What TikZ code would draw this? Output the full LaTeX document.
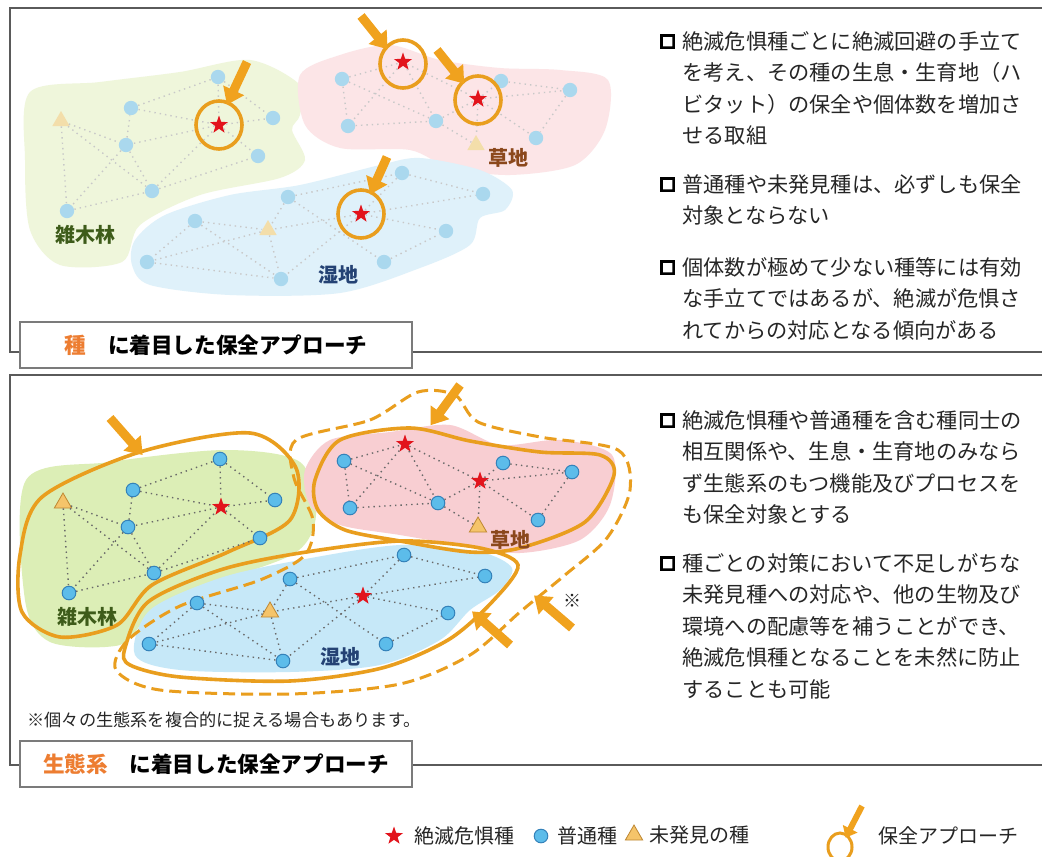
\documentclass[tikz,border=0pt]{standalone}
\usepackage{fontspec}
\setmainfont{Noto Sans CJK JP}
\newfontfamily\heavyfont[FakeBold=12]{Noto Sans CJK JP}
\definecolor{ForestFill}{RGB}{220,238,182}
\definecolor{ForestFaint}{RGB}{239,246,219}
\definecolor{MeadowFill}{RGB}{248,206,210}
\definecolor{MeadowFaint}{RGB}{252,229,231}
\definecolor{WetFill}{RGB}{198,232,248}
\definecolor{WetFaint}{RGB}{223,241,250}
\definecolor{CommonBlue}{RGB}{92,188,234}
\definecolor{CommonEdge}{RGB}{52,130,186}
\definecolor{CommonFaint}{RGB}{170,216,238}
\definecolor{UnknownYellow}{RGB}{245,196,106}
\definecolor{UnknownEdge}{RGB}{190,135,50}
\definecolor{UnknownFaint}{RGB}{243,222,170}
\definecolor{StarRed}{RGB}{226,20,28}
\definecolor{LinkGray}{RGB}{105,105,105}
\definecolor{LinkFaint}{RGB}{200,200,200}
\definecolor{RingOrange}{RGB}{233,158,30}
\definecolor{ArrowOrange}{RGB}{240,162,30}
\definecolor{TitleOrange}{RGB}{237,125,49}
\definecolor{FrameGray}{RGB}{90,90,90}
\definecolor{TextGray}{RGB}{38,38,38}
\definecolor{ForestText}{RGB}{62,92,26}
\definecolor{MeadowText}{RGB}{139,72,28}
\definecolor{WetText}{RGB}{36,66,116}
\usetikzlibrary{arrows.meta, positioning, shapes.geometric}

% the three ecosystems with their species (bottom-panel coordinates)
\newcommand\ecoNet[1]{%
  % 雑木林
  \node[common] (#1-fa) at (220,459) {};
  \node[common] (#1-fb) at (133,490) {};
  \node[unknown] (#1-ft) at (63,503) {};
  \node[endangered] (#1-fs) at (221,507) {};
  \node[common] (#1-fc) at (275,500) {};
  \node[common] (#1-fd) at (128,527) {};
  \node[common] (#1-fe) at (260,538) {};
  \node[common] (#1-ff) at (154,573) {};
  \node[common] (#1-fg) at (69,593) {};
  \foreach \na/\nb in {fb/fa, fb/fs, fa/fs, fa/fc, fs/fc, fs/fe, fs/fd, ft/fd, ft/ff, ft/fg, fd/fb, fd/fg, fd/ff, ff/fs, ff/fe, fg/ff}
    \draw[link] (#1-\na) -- (#1-\nb);
  % 草地
  \node[common] (#1-pa) at (344,461) {};
  \node[endangered] (#1-ps) at (405,444) {};
  \node[common] (#1-pb) at (503,463) {};
  \node[endangered] (#1-pr) at (480,481) {};
  \node[common] (#1-pc) at (572,472) {};
  \node[common] (#1-pd) at (350,508) {};
  \node[common] (#1-pe) at (438,503) {};
  \node[common] (#1-pf) at (538,520) {};
  \node[unknown] (#1-pt) at (478,527) {};
  \foreach \na/\nb in {pa/ps, pa/pd, pa/pe, ps/pd, ps/pe, ps/pr, pd/pe, pe/pr, pe/pt, pr/pt, pr/pb, pr/pc, pr/pf, pb/pc, pc/pf}
    \draw[link] (#1-\na) -- (#1-\nb);
  % 湿地
  \node[common] (#1-wa) at (404,555) {};
  \node[common] (#1-wb) at (485,576) {};
  \node[common] (#1-wc) at (290,579) {};
  \node[endangered] (#1-ws) at (363,596) {};
  \node[common] (#1-wd) at (197,603) {};
  \node[unknown] (#1-wt) at (270,612) {};
  \node[common] (#1-we) at (448,613) {};
  \node[common] (#1-wf) at (149,644) {};
  \node[common] (#1-wg) at (386,644) {};
  \node[common] (#1-wh) at (283,661) {};
  \foreach \na/\nb in {wc/wa, wa/wb, wa/ws, ws/wb, ws/we, ws/wt, ws/wh, wc/wt, wc/wg, wd/wt, wd/wf, wd/wh, wt/wf, wt/wh, wf/wh, wg/we}
    \draw[link] (#1-\na) -- (#1-\nb);
  \node[region, text=ForestText] (#1-forest) at (87,617) {雑木林};
  \node[region, text=MeadowText] (#1-meadow) at (510,540) {草地};
  \node[region, text=WetText] (#1-wet) at (340,657) {湿地};
}

\begin{document}
\begin{tikzpicture}[
    x=0.5pt, y=-0.5pt,
    common/.style={circle, fill=CommonBlue, draw=CommonEdge, line width=0.5pt, minimum size=6.8pt, inner sep=0pt},
    unknown/.style={regular polygon, regular polygon sides=3, fill=UnknownYellow, draw=UnknownEdge, line width=0.4pt, minimum size=10pt, inner sep=0pt},
    endangered/.style={star, star points=5, star point ratio=2.5, fill=StarRed, minimum size=9.5pt, inner sep=0pt},
    link/.style={draw=LinkGray, line width=0.7pt, dotted},
    ring/.style={ellipse, draw=RingOrange, line width=1.8pt, minimum width=23pt, minimum height=24pt, inner sep=0pt},
    pointer/.style={draw=ArrowOrange, line width=4.5pt, shorten >=-2pt, -{Triangle[length=8pt, width=11pt]}},
    boundary/.style={draw=RingOrange, line width=1.8pt},
    merged/.style={draw=RingOrange, line width=1.5pt, dash pattern=on 6pt off 3pt},
    panel/.style={draw=FrameGray, line width=0.8pt},
    para/.style={anchor=north west, align=left, inner sep=0pt, text=TextGray, font=\fontsize{10.6pt}{15.75pt}\selectfont},
    bullet/.style={inner sep=0pt, text=black, font=\heavyfont\fontsize{8pt}{8pt}\selectfont},
    titlebox/.style={draw=FrameGray!80, fill=white, line width=0.6pt, minimum width=196pt, minimum height=23pt, font=\bfseries\fontsize{10.8pt}{12pt}\selectfont},
    region/.style={font=\bfseries\fontsize{10pt}{12pt}\selectfont, inner sep=0pt},
    legendtext/.style={inner sep=0pt, text=TextGray, font=\fontsize{10pt}{12pt}\selectfont}
  ]
  \useasboundingbox (0,0) rectangle (1042,856);
  \fill[white] (0,0) rectangle (1042,856);

  % ---- top panel: species approach
  \draw[panel] (1042,8) -- (10,8) -- (10,352) -- (1042,352);
  \fill[ForestFaint] plot[smooth cycle] coordinates {(30,92) (100,82) (180,72) (250,60) (300,85) (300,115) (292,130) (305,160) (280,178) (200,195) (140,225) (122,262) (60,265) (30,230) (25,160)};
  \fill[MeadowFaint] plot[smooth cycle] coordinates {(300,75) (340,55) (390,45) (440,60) (500,68) (560,70) (608,80) (605,130) (575,165) (510,175) (450,168) (410,150) (340,148) (305,125)};
  \fill[WetFaint] plot[smooth cycle] coordinates {(135,240) (165,215) (230,195) (300,185) (380,165) (420,158) (480,170) (512,190) (505,210) (480,218) (470,245) (420,268) (340,293) (230,295) (150,285) (132,265)};
  \begin{scope}[shift={(-2,-382)},
      common/.style={circle, fill=CommonFaint, minimum size=7.2pt, inner sep=0pt},
      unknown/.style={regular polygon, regular polygon sides=3, fill=UnknownFaint, minimum size=10pt, inner sep=0pt},
      link/.style={draw=LinkFaint, line width=0.7pt, dotted}]
    \ecoNet{t}
  \end{scope}
  \node[ring] (ring-forest) at (219,125) {};
  \node[ring] (ring-meadow1) at (403,64) {};
  \node[ring] (ring-meadow2) at (478,100) {};
  \node[ring] (ring-wet) at (361,214) {};
  \coordinate (tail-forest) at (247,62);
  \coordinate (tail-meadow1) at (361,16);
  \coordinate (tail-meadow2) at (437,50);
  \coordinate (tail-wet) at (387,157);
  \draw[pointer] (tail-forest) -- (ring-forest.68);
  \draw[pointer] (tail-meadow1) -- (ring-meadow1.135);
  \draw[pointer] (tail-meadow2) -- (ring-meadow2.130);
  \draw[pointer] (tail-wet) -- (ring-wet.65);

  \node[para] (para-a) at (682,31) {絶滅危惧種ごとに絶滅回避の手立て\\を考え、その種の生息・生育地（ハ\\ビタット）の保全や個体数を増加さ\\せる取組};
  \node[para] (para-b) at (682,174) {普通種や未発見種は、必ずしも保全\\対象とならない};
  \node[para] (para-c) at (682,257) {個体数が極めて少ない種等には有効\\な手立てではあるが、絶滅が危惧さ\\れてからの対応となる傾向がある};
  \node[bullet, left=3pt of para-a.north west, yshift=-5.3pt] (bullet-a) {□};
  \node[bullet, left=3pt of para-b.north west, yshift=-5.3pt] (bullet-b) {□};
  \node[bullet, left=3pt of para-c.north west, yshift=-5.3pt] (bullet-c) {□};
  \node[titlebox] (title-species) at (216,345) {\textcolor{TitleOrange}{種}\quad に着目した保全アプローチ};

  % ---- bottom panel: ecosystem approach
  \draw[panel] (1042,375) -- (10,375) -- (10,765) -- (1042,765);
  \fill[ForestFill] plot[smooth cycle] coordinates {(26,480) (110,462) (225,450) (300,462) (316,515) (295,553) (210,585) (150,615) (120,645) (50,642) (25,600)};
  \fill[MeadowFill] plot[smooth cycle] coordinates {(305,470) (330,440) (390,432) (450,425) (500,445) (560,440) (612,455) (610,505) (580,540) (520,553) (460,545) (400,535) (340,525) (310,505)};
  \fill[WetFill] plot[smooth cycle] coordinates {(135,655) (150,610) (220,578) (300,560) (400,545) (480,552) (512,568) (500,590) (470,610) (440,640) (380,665) (290,672) (180,670)};
  \draw[boundary] plot[smooth cycle] coordinates {(20,555) (42,497) (140,452) (250,433) (296,468) (290,520) (228,552) (152,585) (117,625) (60,637) (22,612)};
  \draw[boundary] plot[smooth cycle] coordinates {(315,480) (340,440) (410,428) (470,441) (540,452) (600,455) (614,475) (585,522) (520,548) (470,552) (400,541) (345,530) (318,510)};
  \draw[boundary] plot[smooth cycle] coordinates {(125,648) (148,602) (220,570) (300,553) (400,541) (480,548) (518,565) (492,602) (448,640) (382,668) (290,681) (180,677) (130,665)};
  \draw[merged] plot[smooth cycle] coordinates {(296,440) (370,420) (418,392) (455,395) (478,422) (540,437) (618,450) (630,490) (607,538) (565,575) (520,612) (470,655) (400,684) (290,694) (160,690) (116,670) (128,640) (180,606) (260,580) (305,555) (313,520) (294,478)};
  \ecoNet{b}
  \coordinate (tail-forestB) at (110,418);
  \coordinate (aim-forestB) at (140,452);
  \coordinate (tail-meadowB) at (460,385);
  \coordinate (aim-meadowB) at (433,422);
  \coordinate (tail-wetB) at (510,645);
  \coordinate (aim-wetB) at (475,614);
  \coordinate (tail-merged) at (572,628);
  \coordinate (aim-merged) at (537,598);
  \draw[pointer] (tail-forestB) -- (aim-forestB);
  \draw[pointer] (tail-meadowB) -- (aim-meadowB);
  \draw[pointer] (tail-wetB) -- (aim-wetB);
  \draw[pointer] (tail-merged) -- (aim-merged);
  \node[legendtext, font=\fontsize{9pt}{10pt}\selectfont] (kome) at (572,601) {※};

  \node[para] (para-d) at (682,410) {絶滅危惧種や普通種を含む種同士の\\相互関係や、生息・生育地のみなら\\ず生態系のもつ機能及びプロセスを\\も保全対象とする};
  \node[para] (para-e) at (682,553) {種ごとの対策において不足しがちな\\未発見種への対応や、他の生物及び\\環境への配慮等を補うことができ、\\絶滅危惧種となることを未然に防止\\することも可能};
  \node[bullet, left=3pt of para-d.north west, yshift=-5.3pt] (bullet-d) {□};
  \node[bullet, left=3pt of para-e.north west, yshift=-5.3pt] (bullet-e) {□};
  \node[legendtext, anchor=west, font=\fontsize{8.6pt}{10pt}\selectfont] (footnote) at (27,720) {※個々の生態系を複合的に捉える場合もあります。};
  \node[titlebox] (title-eco) at (216,764) {\textcolor{TitleOrange}{生態系}\quad に着目した保全アプローチ};

  % ---- legend
  \node[endangered] (key-star) at (394,836) {};
  \node[legendtext, right=7pt of key-star] (key-star-text) {絶滅危惧種};
  \node[common] (key-common) at (541,836) {};
  \node[legendtext, right=4.5pt of key-common] (key-common-text) {普通種};
  \node[unknown] (key-unknown) at (634,835) {};
  \node[legendtext, right=4.5pt of key-unknown] (key-unknown-text) {未発見の種};
  \node[ring, minimum width=12pt, minimum height=14pt, line width=1.5pt] (key-ring) at (840,847) {};
  \coordinate (key-tail) at (862,806);
  \draw[pointer, line width=3pt, -{Triangle[length=5pt, width=8pt]}] (key-tail) -- (key-ring.60);
  \node[legendtext, anchor=west] (key-ring-text) at (878,836) {保全アプローチ};
\end{tikzpicture}
\end{document}
